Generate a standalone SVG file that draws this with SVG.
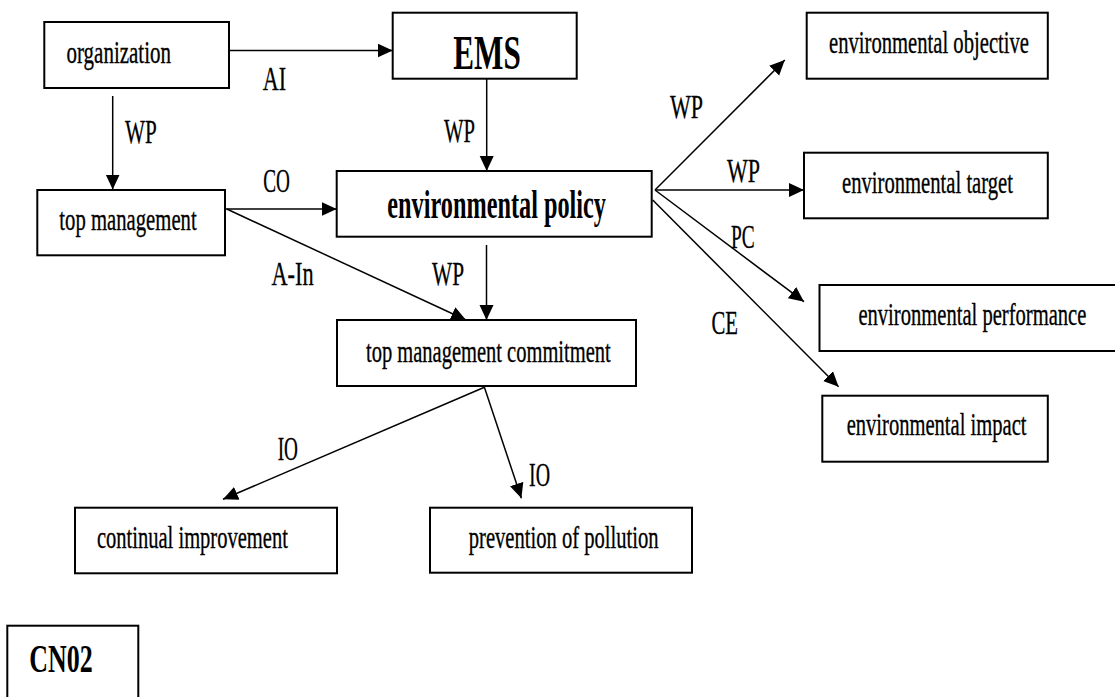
<svg xmlns="http://www.w3.org/2000/svg" width="1115" height="697" viewBox="0 0 1115 697">
<style>
.box{fill:#fff;stroke:#000;stroke-width:2}
.t{font-family:"Liberation Serif","Times New Roman",serif;font-size:32px;fill:#000;stroke:#000;stroke-width:0.35}
.b{font-family:"Liberation Serif","Times New Roman",serif;font-weight:bold;fill:#000}
.lbl{font-family:"Liberation Serif","Times New Roman",serif;font-size:33px;fill:#000;stroke:#000;stroke-width:0.3}
.c{stroke:#000;stroke-width:1.5;fill:none;marker-end:url(#ah)}
</style>
<defs>
<marker id="ah" markerUnits="userSpaceOnUse" markerWidth="16" markerHeight="16" viewBox="-15 -8 16 16" refX="0" refY="0" orient="auto">
<path d="M-15,-7 L0,0 L-15,7 z" fill="#000"/>
</marker>
</defs>
<rect width="1115" height="697" fill="#fff"/>
<g id="connectors">
<line class="c" x1="224" y1="50.5" x2="392.7" y2="50.5"/>
<line class="c" x1="486.7" y1="78.7" x2="486.7" y2="171"/>
<line class="c" x1="112.7" y1="96" x2="112.7" y2="189.5"/>
<line class="c" x1="225" y1="209" x2="336.7" y2="209"/>
<line class="c" x1="226.8" y1="209" x2="466" y2="320"/>
<line class="c" x1="486.5" y1="245" x2="486.5" y2="320"/>
<line class="c" x1="655" y1="190" x2="784.8" y2="60"/>
<line class="c" x1="655" y1="190" x2="804" y2="190"/>
<line class="c" x1="655" y1="190" x2="804" y2="301.7"/>
<line class="c" x1="652.7" y1="200" x2="838.6" y2="386.7"/>
<line class="c" x1="484.4" y1="387.3" x2="223" y2="499.3"/>
<line class="c" x1="484.4" y1="387.3" x2="521.4" y2="498.3"/>
<text class="lbl" x="262.7" y="90" textLength="23.3" lengthAdjust="spacingAndGlyphs">AI</text>
<text class="lbl" x="125" y="142.7" textLength="31.7" lengthAdjust="spacingAndGlyphs">WP</text>
<text class="lbl" x="444" y="141.7" textLength="31" lengthAdjust="spacingAndGlyphs">WP</text>
<text class="lbl" x="263.3" y="192.3" textLength="26.7" lengthAdjust="spacingAndGlyphs">CO</text>
<text class="lbl" x="271.4" y="285" textLength="42.2" lengthAdjust="spacingAndGlyphs">A-In</text>
<text class="lbl" x="432" y="285" textLength="32" lengthAdjust="spacingAndGlyphs">WP</text>
<text class="lbl" x="670" y="118.3" textLength="33" lengthAdjust="spacingAndGlyphs">WP</text>
<text class="lbl" x="727" y="181.7" textLength="33" lengthAdjust="spacingAndGlyphs">WP</text>
<text class="lbl" x="731" y="248.3" textLength="23.7" lengthAdjust="spacingAndGlyphs">PC</text>
<text class="lbl" x="711.5" y="334.3" textLength="26.5" lengthAdjust="spacingAndGlyphs">CE</text>
<text class="lbl" x="277.7" y="460" textLength="20.3" lengthAdjust="spacingAndGlyphs">IO</text>
<text class="lbl" x="529" y="486" textLength="21" lengthAdjust="spacingAndGlyphs">IO</text>
</g>
<g id="organization">
<rect class="box" x="44.3" y="22" width="184.7" height="66"/>
<text class="t" x="66.5" y="63.3" textLength="104.5" lengthAdjust="spacingAndGlyphs">organization</text>
</g>
<g id="ems">
<rect class="box" x="392.7" y="12.7" width="184" height="66"/>
<text class="b" font-size="49" x="453.3" y="69.3" textLength="67.4" lengthAdjust="spacingAndGlyphs">EMS</text>
</g>
<g id="top-management">
<rect class="box" x="37.3" y="190" width="187.7" height="65.3"/>
<text class="t" x="59.3" y="230" textLength="137.4" lengthAdjust="spacingAndGlyphs">top management</text>
</g>
<g id="environmental-policy">
<rect class="box" x="336.7" y="171" width="315" height="65.7"/>
<text class="b" font-size="39" x="387.3" y="218.3" textLength="218.7" lengthAdjust="spacingAndGlyphs">environmental policy</text>
</g>
<g id="top-management-commitment">
<rect class="box" x="337" y="320" width="299" height="66"/>
<text class="t" x="366" y="361.7" textLength="244.7" lengthAdjust="spacingAndGlyphs">top management commitment</text>
</g>
<g id="environmental-objective">
<rect class="box" x="806.7" y="12.7" width="241.1" height="66"/>
<text class="t" x="829" y="53.3" textLength="200" lengthAdjust="spacingAndGlyphs">environmental objective</text>
</g>
<g id="environmental-target">
<rect class="box" x="804" y="152.7" width="243.8" height="65.6"/>
<text class="t" x="842" y="193.3" textLength="171" lengthAdjust="spacingAndGlyphs">environmental target</text>
</g>
<g id="environmental-performance">
<rect class="box" x="819.5" y="285" width="300" height="66"/>
<text class="t" x="858.4" y="325" textLength="228" lengthAdjust="spacingAndGlyphs">environmental performance</text>
</g>
<g id="environmental-impact">
<rect class="box" x="822.3" y="395.7" width="225.5" height="66"/>
<text class="t" x="846.7" y="435" textLength="179.8" lengthAdjust="spacingAndGlyphs">environmental impact</text>
</g>
<g id="continual-improvement">
<rect class="box" x="75" y="507.7" width="262" height="65.6"/>
<text class="t" x="96.9" y="548.3" textLength="191" lengthAdjust="spacingAndGlyphs">continual improvement</text>
</g>
<g id="prevention-of-pollution">
<rect class="box" x="430" y="507.7" width="262" height="65"/>
<text class="t" x="468.75" y="548.3" textLength="189.75" lengthAdjust="spacingAndGlyphs">prevention of pollution</text>
</g>
<g id="cn02">
<rect class="box" x="7.3" y="625.7" width="131" height="80"/>
<text class="b" font-size="39" x="29.3" y="671.7" textLength="63.4" lengthAdjust="spacingAndGlyphs">CN02</text>
</g>
</svg>
